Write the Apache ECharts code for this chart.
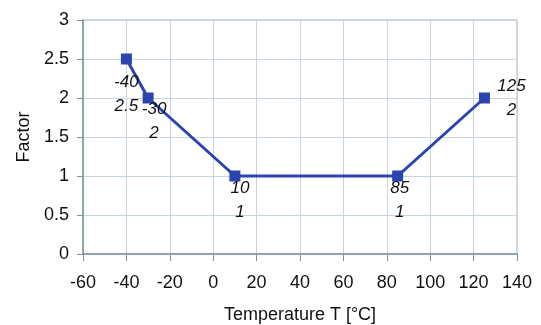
<!DOCTYPE html>
<html><head><meta charset="utf-8">
<script src="https://cdn.jsdelivr.net/npm/echarts@6/dist/echarts.min.js"></script>
<style>html,body{margin:0;padding:0;background:#fff}#c{width:541px;height:325px}</style>
</head><body><div id="c"></div>
<script>
var temps = [-40, -30, 10, 85, 125];
var factors = [2.5, 2, 1, 1, 2];
var xTicks = [-60, -40, -20, 0, 20, 40, 60, 80, 100, 120, 140];
var yTicks = [0, 0.5, 1, 1.5, 2, 2.5, 3];
var labelOffsets = [[0, 35], [6, 23], [5, 24], [2, 24], [27, 0]];

var data = temps.map(function (t, i) {
  return {
    value: [t, factors[i]],
    label: { offset: labelOffsets[i] }
  };
});

var chart = echarts.init(document.getElementById('c'), null, { renderer: 'canvas' });
chart.setOption({
  animation: false,
  backgroundColor: '#ffffff',
  grid: { left: 83, right: 24, top: 20, bottom: 71, containLabel: false, outerBoundsMode: 'none', show: true, borderColor: '#a9b2b8', borderWidth: 1, backgroundColor: 'transparent' },
  xAxis: {
    type: 'value', min: -60, max: 140, interval: 20,
    name: 'Temperature T [°C]', nameLocation: 'middle', nameGap: 52,
    nameTextStyle: { fontFamily: 'Liberation Sans', fontSize: 18, color: '#111' },
    axisLine: { show: true, onZero: false, lineStyle: { color: '#7f8f99', width: 1.5 } },
    axisTick: { show: true, length: 7, lineStyle: { color: '#7f8f99' } },
    axisLabel: { fontFamily: 'Liberation Sans', fontSize: 18, color: '#111', margin: 20 },
    splitLine: { show: true, lineStyle: { color: '#c9d5dd', width: 1 } }
  },
  yAxis: {
    type: 'value', min: 0, max: 3, interval: 0.5,
    name: 'Factor', nameLocation: 'middle', nameGap: 50, nameRotate: 90,
    nameTextStyle: { fontFamily: 'Liberation Sans', fontSize: 18, color: '#111' },
    axisLine: { show: true, onZero: false, lineStyle: { color: '#7f8f99', width: 1.5 } },
    axisTick: { show: true, length: 6, lineStyle: { color: '#7f8f99' } },
    axisLabel: { fontFamily: 'Liberation Sans', fontSize: 18, color: '#111', margin: 14 },
    splitLine: { show: true, lineStyle: { color: '#c9d5dd', width: 1 } }
  },
  series: [{
    type: 'line',
    data: data,
    symbol: 'rect',
    symbolSize: 11,
    lineStyle: { color: '#2b44b0', width: 3 },
    itemStyle: { color: '#2b44b0' },
    label: {
      show: true,
      position: 'inside',
      align: 'center',
      verticalAlign: 'middle',
      formatter: function (p) { return p.value[0] + '\n' + p.value[1]; },
      fontFamily: 'Liberation Sans',
      fontStyle: 'italic',
      fontSize: 17,
      lineHeight: 24,
      color: '#111'
    }
  }]
});
</script></body></html>
